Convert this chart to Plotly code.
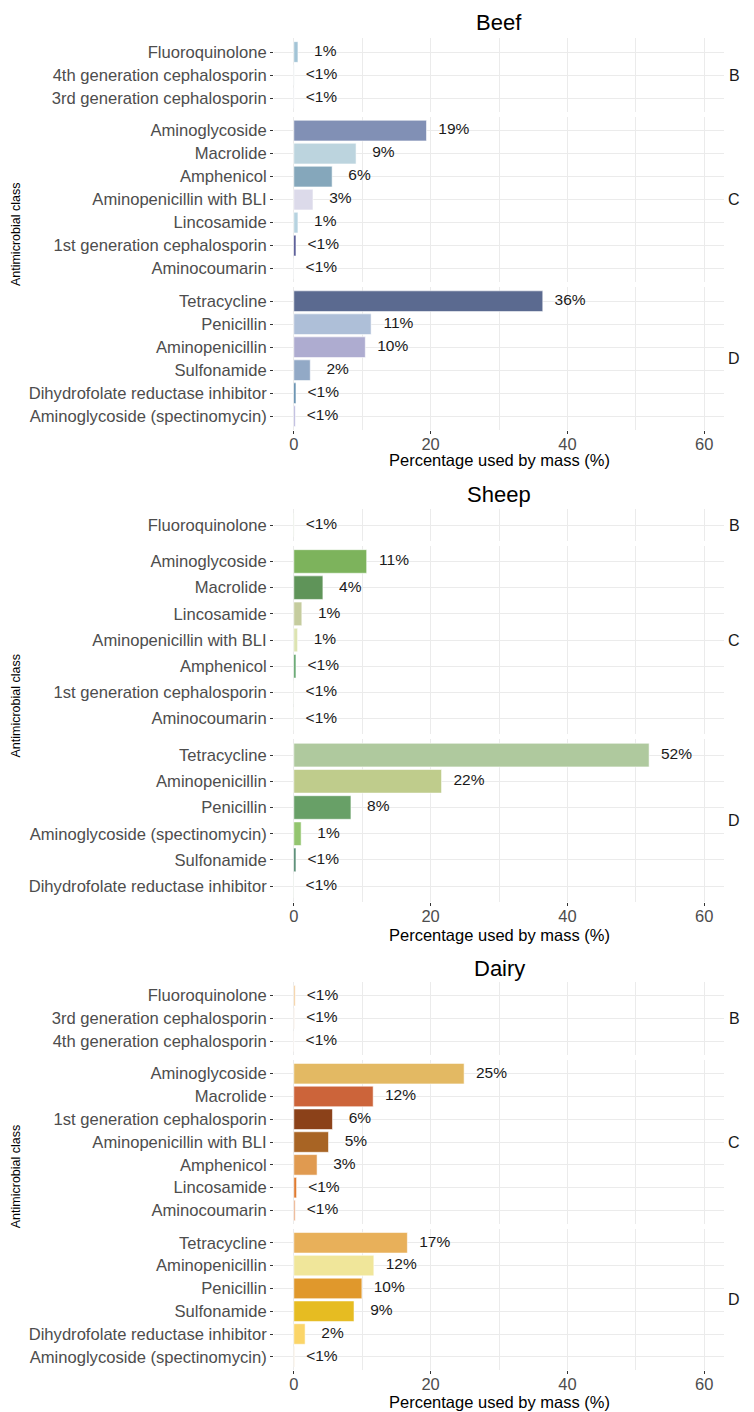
import plotly.graph_objects as go

# ---- data (percentage of antimicrobial mass, by WHO-style category) ----
beef_b = ["Fluoroquinolone", "4th generation cephalosporin", "3rd generation cephalosporin"]
beef_b_pct = [0.6, 0.05, 0.03]
beef_c = ["Aminoglycoside", "Macrolide", "Amphenicol", "Aminopenicillin with BLI",
          "Lincosamide", "1st generation cephalosporin", "Aminocoumarin"]
beef_c_pct = [19.4, 9.1, 5.6, 2.8, 0.6, 0.3, 0.02]
beef_d = ["Tetracycline", "Penicillin", "Aminopenicillin", "Sulfonamide",
          "Dihydrofolate reductase inhibitor", "Aminoglycoside (spectinomycin)"]
beef_d_pct = [36.4, 11.3, 10.45, 2.4, 0.3, 0.2]

sheep_b = ["Fluoroquinolone"]
sheep_b_pct = [0.03]
sheep_c = ["Aminoglycoside", "Macrolide", "Lincosamide", "Aminopenicillin with BLI",
           "Amphenicol", "1st generation cephalosporin", "Aminocoumarin"]
sheep_c_pct = [10.65, 4.25, 1.17, 0.55, 0.3, 0.02, 0.02]
sheep_d = ["Tetracycline", "Aminopenicillin", "Penicillin", "Aminoglycoside (spectinomycin)",
           "Sulfonamide", "Dihydrofolate reductase inhibitor"]
sheep_d_pct = [51.95, 21.6, 8.35, 1.07, 0.3, 0.02]

dairy_b = ["Fluoroquinolone", "3rd generation cephalosporin", "4th generation cephalosporin"]
dairy_b_pct = [0.2, 0.1, 0.02]
dairy_c = ["Aminoglycoside", "Macrolide", "1st generation cephalosporin", "Aminopenicillin with BLI",
           "Amphenicol", "Lincosamide", "Aminocoumarin"]
dairy_c_pct = [24.9, 11.6, 5.65, 5.07, 3.4, 0.4, 0.2]
dairy_d = ["Tetracycline", "Aminopenicillin", "Penicillin", "Sulfonamide",
           "Dihydrofolate reductase inhibitor", "Aminoglycoside (spectinomycin)"]
dairy_d_pct = [16.6, 11.7, 9.95, 8.8, 1.65, 0.1]

# ---- colours ----
beef_cols = {
    "Fluoroquinolone": "#a3c4d6", "4th generation cephalosporin": "#c9d9e6",
    "3rd generation cephalosporin": "#b5c7dc", "Aminoglycoside": "#8190b5",
    "Macrolide": "#bcd4de", "Amphenicol": "#85a7bb", "Aminopenicillin with BLI": "#dcdaea",
    "Lincosamide": "#b7d3e0", "1st generation cephalosporin": "#3b3f85",
    "Aminocoumarin": "#9fb6cf", "Tetracycline": "#5b6a90", "Penicillin": "#aebfd8",
    "Aminopenicillin": "#aeacd0", "Sulfonamide": "#92a9c6",
    "Dihydrofolate reductase inhibitor": "#4e7fa3", "Aminoglycoside (spectinomycin)": "#a9a6d4",
}
sheep_cols = {
    "Fluoroquinolone": "#a8c890", "Aminoglycoside": "#7db35c", "Macrolide": "#5f9459",
    "Lincosamide": "#c5cc9e", "Aminopenicillin with BLI": "#dde4b2", "Amphenicol": "#4e9a5a",
    "1st generation cephalosporin": "#7aa070", "Aminocoumarin": "#9cc07d",
    "Tetracycline": "#afc99e", "Aminopenicillin": "#bfcc8c", "Penicillin": "#68a067",
    "Aminoglycoside (spectinomycin)": "#93c56f", "Sulfonamide": "#3d7a5e",
    "Dihydrofolate reductase inhibitor": "#8fb88a",
}
dairy_cols = {
    "Fluoroquinolone": "#f2c58a", "3rd generation cephalosporin": "#f0d8c0",
    "4th generation cephalosporin": "#e8c8a0", "Aminoglycoside": "#e3b963",
    "Macrolide": "#cc643a", "1st generation cephalosporin": "#8b4119",
    "Aminopenicillin with BLI": "#a86424", "Amphenicol": "#e09a50", "Lincosamide": "#e07b30",
    "Aminocoumarin": "#e8a070", "Tetracycline": "#e8b05a", "Aminopenicillin": "#f0e69a",
    "Penicillin": "#e0982c", "Sulfonamide": "#e6bc22",
    "Dihydrofolate reductase inhibitor": "#fbd568", "Aminoglycoside (spectinomycin)": "#f0d5b0",
}

animals = [
    ("Beef", [(beef_b, beef_b_pct), (beef_c, beef_c_pct), (beef_d, beef_d_pct)], beef_cols),
    ("Sheep", [(sheep_b, sheep_b_pct), (sheep_c, sheep_c_pct), (sheep_d, sheep_d_pct)], sheep_cols),
    ("Dairy", [(dairy_b, dairy_b_pct), (dairy_c, dairy_c_pct), (dairy_d, dairy_d_pct)], dairy_cols),
]
facets = ["B", "C", "D"]

# layout in page pixels: top of first panel, px per category row, gap between panels
blocks = [dict(top=38.2, u=23.0, gap=5), dict(top=509.3, u=26.2, gap=5), dict(top=982.0, u=22.8, gap=5)]
title_y = [23, 495, 968]
xtitle_y = [460, 935, 1402]

# the page body has an 8px margin, so the figure is sized to fit inside it
OFF = 8
W, H = 754 - OFF, 1412 - OFF


def px(p):
    return (p - OFF) / W


def py(p):
    return 1 - (p - OFF) / H


x0, x1 = px(274), px(724)
xmid = (x0 + x1) / 2


def pct_label(v):
    return "<1%" if v < 0.5 else f"{round(v)}%"


GRID = "#ebebeb"
fig = go.Figure()
annotations = []
k = 0
for a, (name, panels, cols) in enumerate(animals):
    top = blocks[a]["top"]
    u = blocks[a]["u"]
    gap = blocks[a]["gap"]
    block_top = top
    for j, (cls, vals) in enumerate(panels):
        k += 1
        n = len(cls)
        bottom = top + (n + 0.2) * u
        xa = "x" if k == 1 else f"x{k}"
        ya = "y" if k == 1 else f"y{k}"
        fig.add_trace(go.Bar(
            x=vals, y=cls, orientation="h", width=0.9,
            marker=dict(color=[cols[c] for c in cls],
                        line=dict(color="rgba(255,255,255,0.7)", width=0.8)),
            xaxis=xa, yaxis=ya, showlegend=False,
        ))
        fig.add_trace(go.Scatter(
            x=[v + 4 for v in vals], y=cls, mode="text",
            text=[pct_label(v) for v in vals], textposition="middle center",
            textfont=dict(size=15.5, color="#1a1a1a"),
            xaxis=xa, yaxis=ya, showlegend=False, cliponaxis=False,
        ))
        is_bottom = j == 2
        fig.layout[f"xaxis{'' if k == 1 else k}"] = dict(
            domain=[x0, x1], anchor=ya, range=[-2.9, 62.9],
            tickvals=[0, 20, 40, 60], showticklabels=is_bottom,
            ticks="outside" if is_bottom else "", ticklen=3, tickcolor="#333333",
            ticklabelstandoff=-4,
            tickfont=dict(size=16.5, color="#4d4d4d"),
            showgrid=True, gridcolor=GRID, gridwidth=1, zeroline=False,
            minor=dict(tickvals=[10, 30, 50], showgrid=True, gridcolor=GRID, gridwidth=1, ticks=""),
            showline=False, fixedrange=True,
        )
        fig.layout[f"yaxis{'' if k == 1 else k}"] = dict(
            domain=[py(bottom), py(top)], anchor=xa, type="category",
            categoryorder="array", categoryarray=cls, range=[n - 0.4, -0.6],
            ticks="outside", ticklen=3, tickcolor="#333333",
            tickfont=dict(size=16.6, color="#4d4d4d"),
            showgrid=True, gridcolor=GRID, gridwidth=1, zeroline=False, showline=False,
            fixedrange=True,
        )
        annotations.append(dict(
            x=px(734), y=py((top + bottom) / 2), xref="paper", yref="paper",
            text=facets[j], showarrow=False, xanchor="center", yanchor="middle",
            font=dict(size=16, color="#1a1a1a"),
        ))
        top = bottom + gap
    block_bottom = top - gap
    annotations.append(dict(
        x=xmid, y=py(title_y[a]), xref="paper", yref="paper", text=name,
        showarrow=False, xanchor="center", yanchor="middle",
        font=dict(size=22, color="#000000"),
    ))
    annotations.append(dict(
        x=xmid, y=py(xtitle_y[a]), xref="paper", yref="paper",
        text="Percentage used by mass (%)", showarrow=False,
        xanchor="center", yanchor="middle", font=dict(size=16.5, color="#000000"),
    ))
    annotations.append(dict(
        x=px(16), y=py((block_top + block_bottom) / 2), xref="paper", yref="paper",
        text="Antimicrobial class", textangle=-90, showarrow=False,
        xanchor="center", yanchor="middle", font=dict(size=12.5, color="#000000"),
    ))

fig.update_layout(
    width=W, height=H, margin=dict(l=0, r=0, t=0, b=0),
    paper_bgcolor="white", plot_bgcolor="white",
    font=dict(family="Liberation Sans, Arial, sans-serif"),
    annotations=annotations,
)

fig.write_html("out.html")
